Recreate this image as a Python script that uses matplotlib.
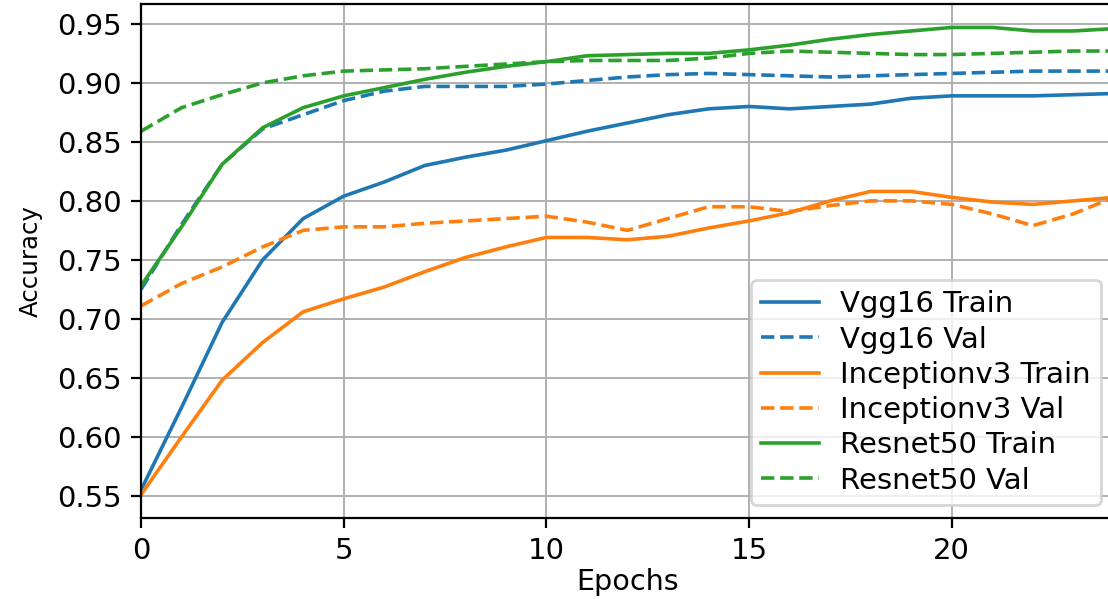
import numpy as np
import matplotlib
matplotlib.use("Agg")
import matplotlib.pyplot as plt

epochs = np.arange(25)

vgg_train = [0.555, 0.625, 0.697, 0.750, 0.785, 0.804, 0.816, 0.830, 0.837, 0.843, 0.851,
             0.859, 0.866, 0.873, 0.878, 0.880, 0.878, 0.880, 0.882, 0.887, 0.889, 0.889,
             0.889, 0.890, 0.891]
vgg_val = [0.725, 0.780, 0.831, 0.861, 0.873, 0.885, 0.893, 0.897, 0.897, 0.897, 0.899,
           0.902, 0.905, 0.907, 0.908, 0.907, 0.906, 0.905, 0.906, 0.907, 0.908, 0.909,
           0.910, 0.910, 0.910]
inc_train = [0.551, 0.600, 0.648, 0.680, 0.706, 0.717, 0.727, 0.740, 0.752, 0.761, 0.769,
             0.769, 0.767, 0.770, 0.777, 0.783, 0.790, 0.800, 0.808, 0.808, 0.803, 0.799,
             0.797, 0.800, 0.803]
inc_val = [0.711, 0.730, 0.744, 0.761, 0.775, 0.778, 0.778, 0.781, 0.783, 0.785, 0.787,
           0.782, 0.775, 0.785, 0.795, 0.795, 0.791, 0.796, 0.800, 0.800, 0.797, 0.789,
           0.779, 0.789, 0.803]
res_train = [0.728, 0.778, 0.831, 0.862, 0.879, 0.889, 0.896, 0.903, 0.909, 0.914, 0.918,
             0.923, 0.924, 0.925, 0.925, 0.928, 0.932, 0.937, 0.941, 0.944, 0.947, 0.947,
             0.944, 0.944, 0.946]
res_val = [0.859, 0.879, 0.890, 0.900, 0.906, 0.910, 0.911, 0.912, 0.914, 0.916, 0.918,
           0.919, 0.919, 0.919, 0.921, 0.925, 0.927, 0.926, 0.925, 0.924, 0.924, 0.925,
           0.926, 0.927, 0.927]

plt.rcParams['font.size'] = 10.5
plt.rcParams['lines.linewidth'] = 1.3

fig = plt.figure(figsize=(5.54, 2.995), dpi=200)
ax = fig.add_axes([0.1273, 0.1352, 0.878, 0.858])

ax.plot(epochs, vgg_train, color='tab:blue', label='Vgg16 Train')
ax.plot(epochs, vgg_val, color='tab:blue', linestyle='--', label='Vgg16 Val')
ax.plot(epochs, inc_train, color='tab:orange', label='Inceptionv3 Train')
ax.plot(epochs, inc_val, color='tab:orange', linestyle='--', label='Inceptionv3 Val')
ax.plot(epochs, res_train, color='tab:green', label='Resnet50 Train')
ax.plot(epochs, res_val, color='tab:green', linestyle='--', label='Resnet50 Val')

ax.set_xlim(0, 24)
ax.set_yticks(np.arange(0.55, 0.951, 0.05))
ax.tick_params(labelsize=10.5)
ax.set_xlabel('Epochs', fontsize=10.3, labelpad=1)
ax.set_ylabel('Accuracy', fontsize=8.8, labelpad=5)
ax.legend(loc='lower right', fontsize=10.5, labelspacing=0.25, borderpad=0.35,
          handletextpad=0.7, borderaxespad=0.45)
ax.grid(linewidth=0.7)

fig.savefig('out.png', dpi=200)
